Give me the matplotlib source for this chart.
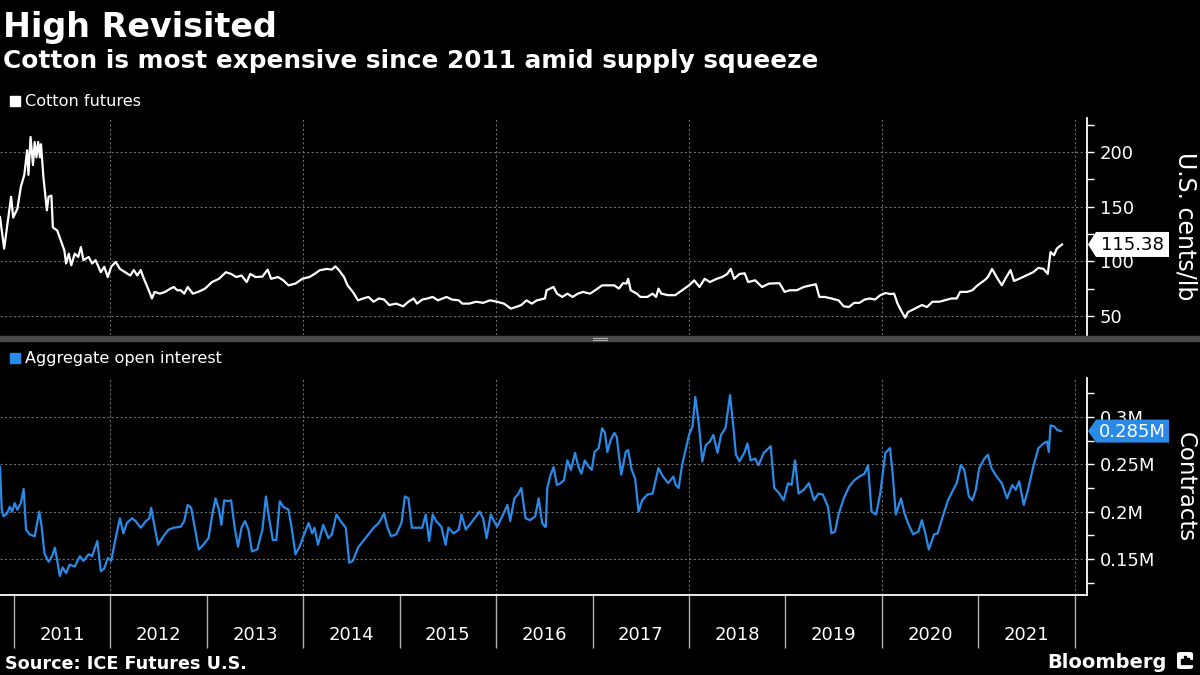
import matplotlib
matplotlib.use("Agg")
import matplotlib.pyplot as plt
import matplotlib.transforms as mtransforms
from matplotlib.patches import Polygon, Rectangle, FancyBboxPatch
from matplotlib.lines import Line2D
from matplotlib.ticker import FixedLocator, MultipleLocator, FuncFormatter, NullFormatter

plt.rcParams['font.family'] = ['DejaVu Sans']

# Data (decimal years)
cotton_x = [
    2010.856, 2010.899, 2010.928, 2010.971, 2010.993, 2011.036, 2011.072, 2011.108, 2011.137, 2011.151,
    2011.173, 2011.198, 2011.216, 2011.234, 2011.252, 2011.270, 2011.281, 2011.306, 2011.342, 2011.360,
    2011.389, 2011.404, 2011.450, 2011.486, 2011.523, 2011.541, 2011.569, 2011.595, 2011.631, 2011.667,
    2011.695, 2011.721, 2011.775, 2011.811, 2011.847, 2011.901, 2011.937, 2011.973, 2012.009, 2012.056,
    2012.099, 2012.153, 2012.207, 2012.243, 2012.279, 2012.315, 2012.341, 2012.369, 2012.405, 2012.431,
    2012.459, 2012.514, 2012.568, 2012.622, 2012.658, 2012.694, 2012.730, 2012.766, 2012.802, 2012.856,
    2012.910, 2012.982, 2013.054, 2013.126, 2013.198, 2013.252, 2013.306, 2013.360, 2013.414, 2013.450,
    2013.505, 2013.577, 2013.631, 2013.667, 2013.739, 2013.793, 2013.847, 2013.919, 2013.991, 2014.063,
    2014.117, 2014.171, 2014.243, 2014.297, 2014.333, 2014.369, 2014.423, 2014.459, 2014.514, 2014.568,
    2014.622, 2014.676, 2014.730, 2014.784, 2014.838, 2014.892, 2014.964, 2015.036, 2015.090, 2015.144,
    2015.180, 2015.234, 2015.288, 2015.342, 2015.396, 2015.486, 2015.541, 2015.613, 2015.649, 2015.721,
    2015.793, 2015.865, 2015.937, 2016.009, 2016.081, 2016.153, 2016.225, 2016.261, 2016.315, 2016.369,
    2016.423, 2016.506,
    2016.523, 2016.595, 2016.631, 2016.685, 2016.739, 2016.793, 2016.847, 2016.901, 2016.973, 2017.027,
    2017.099, 2017.171, 2017.225, 2017.272, 2017.315, 2017.351, 2017.369, 2017.395, 2017.459, 2017.495,
    2017.568, 2017.622, 2017.658, 2017.683, 2017.712, 2017.784, 2017.856, 2017.928, 2018.000, 2018.054,
    2018.108, 2018.162, 2018.216, 2018.288, 2018.342, 2018.396, 2018.432, 2018.468, 2018.523, 2018.577,
    2018.613, 2018.685, 2018.757, 2018.829, 2018.937, 2018.991, 2019.045, 2019.117, 2019.189, 2019.261,
    2019.315, 2019.351, 2019.405, 2019.477, 2019.550, 2019.604, 2019.658, 2019.712, 2019.766, 2019.820,
    2019.874, 2019.928, 2019.982, 2020.036, 2020.090, 2020.126, 2020.162, 2020.198, 2020.241, 2020.270,
    2020.342, 2020.414, 2020.468, 2020.523, 2020.595, 2020.649, 2020.721, 2020.775, 2020.811, 2020.883,
    2020.937, 2020.991, 2021.063, 2021.099, 2021.142, 2021.189, 2021.243, 2021.279, 2021.333, 2021.369,
    2021.423, 2021.495, 2021.568, 2021.622, 2021.676, 2021.719, 2021.748, 2021.784, 2021.813, 2021.856,
    2021.867,
]
cotton_y = [
    140.5, 111.6, 131, 159, 140, 148, 168, 179, 201.5, 179,
    213.7, 188, 209, 195, 209, 195, 207, 177, 146.6, 159,
    160, 131, 128, 119, 110, 98, 107, 96.3, 107, 104,
    113, 101, 104, 98, 101, 90, 95, 85.6, 95, 99.4,
    93, 90, 87, 92, 87, 92, 85.6, 79.6, 72, 66,
    72, 70.4, 72, 75, 76.5, 73.5, 73.5, 70.4, 76.5, 70.4,
    72, 75, 81, 84, 90, 88.4, 85.6, 87, 81, 88.4,
    85.6, 86, 92.4, 84, 85.6, 82.6, 78, 79.6, 84, 85.6,
    88.4, 91.8, 93, 92.4, 95.4, 92, 85.6, 78, 72, 64.3,
    66, 67.4, 63, 66, 65, 60, 61.3, 58.8, 63, 66,
    61.3, 65, 66, 67.4, 64.3, 67.4, 65, 64.3, 61.3, 61.3,
    63, 62, 64.3, 63, 61.3, 56.7, 58.8, 60, 64.3, 61.3,
    64.3, 66,
    73.5, 76.5, 70.4, 67.4, 70.4, 67.4, 70.4, 72, 70.4, 73.5,
    78, 78, 78, 75, 80, 79.6, 84, 73.5, 70.4, 67.4,
    67.4, 70.4, 67.4, 75, 70.4, 69, 69, 73.5, 78, 82.6,
    76.5, 84, 81, 84, 85.6, 88.4, 93, 84, 88.4, 89,
    81, 82.6, 76.5, 79.6, 80, 72, 73.5, 73.5, 76.5, 78,
    79, 67.4, 67.4, 66, 64.3, 58.8, 58.2, 62, 62, 65,
    66, 65, 69, 71, 70, 70.4, 61.3, 55, 48.4, 53.6,
    56.7, 60, 58.2, 63, 63, 64.3, 66, 66, 72, 72,
    73.5, 78, 82.6, 85.6, 93, 85.6, 78, 84, 92, 82,
    84, 87, 90, 94, 93, 88.4, 108.5, 105.5, 111.6, 114.6,
    115.38,
]

oi_x = [
    2010.856, 2010.874, 2010.892, 2010.928, 2010.957, 2010.982, 2011.007, 2011.036, 2011.072, 2011.101,
    2011.126, 2011.162, 2011.216, 2011.263, 2011.288, 2011.317, 2011.360, 2011.396, 2011.425, 2011.450,
    2011.476, 2011.505, 2011.541, 2011.577, 2011.631, 2011.685, 2011.721, 2011.775, 2011.811, 2011.865,
    2011.901, 2011.937, 2011.973, 2012.009, 2012.045, 2012.099, 2012.135, 2012.171, 2012.225, 2012.261,
    2012.315, 2012.369, 2012.405, 2012.423, 2012.459, 2012.495, 2012.550, 2012.604, 2012.658, 2012.730,
    2012.766, 2012.802, 2012.838, 2012.874, 2012.917, 2012.964, 2013.018, 2013.054, 2013.090, 2013.126,
    2013.151, 2013.180, 2013.216, 2013.252, 2013.288, 2013.324, 2013.360, 2013.396, 2013.432, 2013.468,
    2013.523, 2013.577, 2013.613, 2013.649, 2013.685, 2013.721, 2013.757, 2013.793, 2013.847, 2013.883,
    2013.919, 2013.962, 2014.009, 2014.056, 2014.092, 2014.117, 2014.153, 2014.207, 2014.261, 2014.297,
    2014.344, 2014.387, 2014.441, 2014.477, 2014.514, 2014.568, 2014.622, 2014.676, 2014.730, 2014.784,
    2014.838, 2014.874, 2014.910, 2014.964, 2015.018, 2015.054, 2015.090, 2015.126, 2015.180, 2015.234,
    2015.270, 2015.306, 2015.342, 2015.378, 2015.432, 2015.476, 2015.505, 2015.559, 2015.613, 2015.641,
    2015.685, 2015.739, 2015.793, 2015.829, 2015.865, 2015.901, 2015.944, 2015.973, 2016.009, 2016.063,
    2016.117, 2016.146, 2016.189, 2016.225, 2016.261, 2016.305, 2016.351, 2016.405, 2016.441, 2016.477,
    2016.506,
    2016.515, 2016.530, 2016.559, 2016.595, 2016.631, 2016.667, 2016.703, 2016.739, 2016.775, 2016.818,
    2016.854, 2016.883, 2016.919, 2016.962, 2016.991, 2017.020, 2017.063, 2017.099, 2017.128, 2017.153,
    2017.189, 2017.225, 2017.250, 2017.297, 2017.344, 2017.369, 2017.405, 2017.441, 2017.477, 2017.514,
    2017.568, 2017.622, 2017.683, 2017.730, 2017.784, 2017.838, 2017.863, 2017.892, 2017.928, 2017.964,
    2018.000, 2018.036, 2018.065, 2018.101, 2018.137, 2018.173, 2018.216, 2018.252, 2018.295, 2018.332,
    2018.378, 2018.425, 2018.461, 2018.486, 2018.523, 2018.577, 2018.605, 2018.638, 2018.685, 2018.721,
    2018.775, 2018.847, 2018.883, 2018.937, 2018.980, 2019.027, 2019.063, 2019.099, 2019.135, 2019.189,
    2019.243, 2019.297, 2019.341, 2019.387, 2019.441, 2019.477, 2019.514, 2019.550, 2019.604, 2019.658,
    2019.712, 2019.766, 2019.820, 2019.856, 2019.892, 2019.939, 2019.982, 2020.036, 2020.083, 2020.108,
    2020.144, 2020.198, 2020.234, 2020.270, 2020.324, 2020.378, 2020.414, 2020.450, 2020.486, 2020.541,
    2020.577, 2020.631, 2020.685, 2020.739, 2020.775, 2020.818, 2020.854, 2020.901, 2020.937, 2020.973,
    2021.009, 2021.063, 2021.099, 2021.135, 2021.189, 2021.243, 2021.297, 2021.351, 2021.387, 2021.423,
    2021.470, 2021.514, 2021.568, 2021.622, 2021.676, 2021.712, 2021.730, 2021.748, 2021.784, 2021.820,
    2021.856,
]
# aggregate open interest, millions of contracts
oi_y = [
    0.247, 0.202, 0.195, 0.198, 0.205, 0.200, 0.209, 0.202, 0.209, 0.224,
    0.181, 0.176, 0.174, 0.200, 0.184, 0.156, 0.147, 0.153, 0.162, 0.148,
    0.132, 0.141, 0.135, 0.144, 0.142, 0.153, 0.148, 0.155, 0.153, 0.169,
    0.137, 0.140, 0.151, 0.148, 0.167, 0.193, 0.177, 0.188, 0.193, 0.190,
    0.183, 0.190, 0.193, 0.204, 0.184, 0.165, 0.174, 0.181, 0.183, 0.184,
    0.190, 0.207, 0.204, 0.184, 0.160, 0.165, 0.172, 0.195, 0.214, 0.202,
    0.186, 0.212, 0.211, 0.212, 0.184, 0.163, 0.183, 0.190, 0.181, 0.158,
    0.160, 0.181, 0.216, 0.191, 0.170, 0.170, 0.211, 0.205, 0.202, 0.181,
    0.155, 0.163, 0.176, 0.188, 0.177, 0.183, 0.165, 0.186, 0.172, 0.176,
    0.197, 0.190, 0.183, 0.146, 0.148, 0.162, 0.169, 0.176, 0.183, 0.188,
    0.198, 0.183, 0.174, 0.176, 0.188, 0.216, 0.214, 0.183, 0.183, 0.183,
    0.197, 0.169, 0.197, 0.190, 0.184, 0.165, 0.183, 0.177, 0.181, 0.197,
    0.181, 0.188, 0.195, 0.200, 0.193, 0.172, 0.197, 0.191, 0.184, 0.195,
    0.207, 0.190, 0.214, 0.218, 0.225, 0.193, 0.191, 0.195, 0.214, 0.188,
    0.184,
    0.184, 0.225, 0.237, 0.247, 0.228, 0.230, 0.233, 0.254, 0.244, 0.262,
    0.247, 0.240, 0.254, 0.247, 0.244, 0.263, 0.267, 0.288, 0.283, 0.263,
    0.276, 0.283, 0.279, 0.239, 0.263, 0.265, 0.244, 0.235, 0.200, 0.212,
    0.218, 0.219, 0.246, 0.237, 0.230, 0.237, 0.228, 0.225, 0.249, 0.265,
    0.281, 0.290, 0.321, 0.293, 0.253, 0.270, 0.274, 0.281, 0.262, 0.281,
    0.288, 0.323, 0.288, 0.260, 0.253, 0.263, 0.272, 0.254, 0.256, 0.249,
    0.262, 0.269, 0.225, 0.219, 0.212, 0.230, 0.228, 0.254, 0.219, 0.223,
    0.230, 0.212, 0.219, 0.218, 0.205, 0.177, 0.179, 0.197, 0.214, 0.226,
    0.233, 0.237, 0.240, 0.249, 0.200, 0.197, 0.219, 0.262, 0.267, 0.244,
    0.197, 0.214, 0.198, 0.188, 0.176, 0.179, 0.191, 0.177, 0.160, 0.176,
    0.177, 0.195, 0.212, 0.223, 0.230, 0.249, 0.244, 0.216, 0.212, 0.223,
    0.246, 0.256, 0.260, 0.246, 0.237, 0.230, 0.214, 0.228, 0.223, 0.232,
    0.207, 0.223, 0.247, 0.267, 0.272, 0.274, 0.263, 0.291, 0.290, 0.286,
    0.285,
]

years = list(range(2011, 2022))
cotton_ticks = [50, 100, 150, 200]
oi_ticks = [0.15, 0.2, 0.25, 0.3]

BLUE = '#2a8ae8'
GRID = '#6a6a6a'


def fx(px):
    return px / 1200


def fy(py):
    return 1 - py / 675


fig = plt.figure(figsize=(12, 6.75), dpi=100, facecolor='black')

ax1 = fig.add_axes([0, fy(335), fx(1087), (335 - 118) / 675])
ax2 = fig.add_axes([0, fy(595), fx(1087), (595 - 378) / 675])

for ax in (ax1, ax2):
    ax.set_facecolor('black')
    ax.set_xlim(2010.856, 2022.126)
    ax.yaxis.tick_right()
    for side in ['left', 'top', 'bottom']:
        ax.spines[side].set_visible(False)
    ax.spines['right'].set_color('white')
    ax.spines['right'].set_linewidth(1.3)
    ax.tick_params(axis='y', which='both', direction='out', colors='white',
                   labelsize=13, length=5, width=1, pad=4)
    ax.grid(axis='y', color=GRID, linestyle=(0, (2, 2)), linewidth=0.8)
    for yr in range(2012, 2023, 2):
        ax.axvline(yr, color=GRID, linestyle=(0, (2, 2)), linewidth=0.8, zorder=1)

# top panel: cotton futures
ax1.plot(cotton_x, cotton_y, color='white', linewidth=1.6, zorder=3)
ax1.set_ylim(32.6, 231)
ax1.yaxis.set_major_locator(FixedLocator(cotton_ticks))
ax1.yaxis.set_minor_locator(MultipleLocator(25))
ax1.tick_params(axis='x', which='both', bottom=False, labelbottom=False)

# bottom panel: open interest
ax2.plot(oi_x, oi_y, color=BLUE, linewidth=1.6, zorder=3)
ax2.set_ylim(0.112, 0.341)
ax2.yaxis.set_major_locator(FixedLocator(oi_ticks))
ax2.yaxis.set_minor_locator(MultipleLocator(0.025))
ax2.yaxis.set_major_formatter(FuncFormatter(lambda v, p: f"{v:g}M"))
ax2.spines['bottom'].set_visible(True)
ax2.spines['bottom'].set_color('white')
ax2.spines['bottom'].set_linewidth(1.3)
ax2.xaxis.set_major_locator(FixedLocator(years + [2022]))
ax2.xaxis.set_major_formatter(NullFormatter())
ax2.xaxis.set_minor_locator(FixedLocator([y + 0.5 for y in years]))
ax2.xaxis.set_minor_formatter(FuncFormatter(lambda v, p: str(int(v))))
ax2.tick_params(axis='x', which='major', direction='out', length=38, width=1,
                color='#b0b0b0')
ax2.tick_params(axis='x', which='minor', length=0, pad=22, labelsize=13,
                labelcolor='white')

# axis titles on the right
fig.text(fx(1185), fy(226), 'U.S. cents/lb', rotation=270, ha='center', va='center',
         fontsize=17, color='white')
fig.text(fx(1185), fy(487), 'Contracts', rotation=270, ha='center', va='center',
         fontsize=16.5, color='white')

# legends
fig.add_artist(Rectangle((fx(10), fy(106)), 10 / 1200, 10 / 675, color='white',
                         transform=fig.transFigure))
fig.text(fx(25), fy(101), 'Cotton futures', va='center', fontsize=11.6, color='white')
fig.add_artist(Rectangle((fx(10), fy(363)), 10 / 1200, 10 / 675, color=BLUE,
                         transform=fig.transFigure))
fig.text(fx(25), fy(358), 'Aggregate open interest', va='center', fontsize=11.6,
         color='white')

# panel separator
fig.add_artist(Rectangle((0, fy(341)), 1, 5 / 675, color='#4a4a4a',
                         transform=fig.transFigure))
for py in (337.6, 339.6):
    fig.add_artist(Line2D([fx(593), fx(607)], [fy(py), fy(py)], color='#b0b0b0',
                          linewidth=0.8, transform=fig.transFigure))


# last-value tags
def tag(ax, val, text, face, tcolor, half):
    blend = mtransforms.blended_transform_factory(ax.transAxes, ax.transData)
    off = fig.dpi_scale_trans + mtransforms.ScaledTranslation(1.0, val, blend)
    verts = [(0.01, 0), (0.09, half), (0.82, half), (0.82, -half), (0.09, -half)]
    fig.add_artist(Polygon(verts, closed=True, transform=off, facecolor=face,
                           edgecolor='none', zorder=20))
    fig.text(0.45, -0.005, text, transform=off, ha='center', va='center',
             fontsize=13, color=tcolor, zorder=21)


tag(ax1, cotton_y[-1], f"{cotton_y[-1]:.2f}", 'white', 'black', 0.125)
tag(ax2, oi_y[-1], f"{oi_y[-1]:.3f}M", BLUE, 'white', 0.115)

# titles
fig.text(fx(3), fy(37), 'High Revisited', fontsize=24, fontweight='bold',
         color='white', va='baseline')
fig.text(fx(3), fy(68), 'Cotton is most expensive since 2011 amid supply squeeze',
         fontsize=17.8, fontweight='bold', color='white', va='baseline')

# footer
fig.text(fx(5), fy(669), 'Source: ICE Futures U.S.', fontsize=12.7, fontweight='bold',
         color='white', va='baseline')
fig.text(fx(1167), fy(668), 'Bloomberg', fontsize=14, fontweight='bold',
         color='white', ha='right', va='baseline')
fig.add_artist(FancyBboxPatch((fx(1177), fy(669)), 16 / 1200, 17 / 675,
                              boxstyle='round,pad=0,rounding_size=0.003',
                              facecolor='white', edgecolor='none',
                              transform=fig.transFigure))
for bx, bh in ((1181, 5), (1184, 8), (1187, 6), (1190, 4)):
    fig.add_artist(Rectangle((fx(bx), fy(664)), 1.6 / 1200, bh / 675, color='black',
                             transform=fig.transFigure))

fig.savefig('out.png', dpi=100, facecolor='black')
